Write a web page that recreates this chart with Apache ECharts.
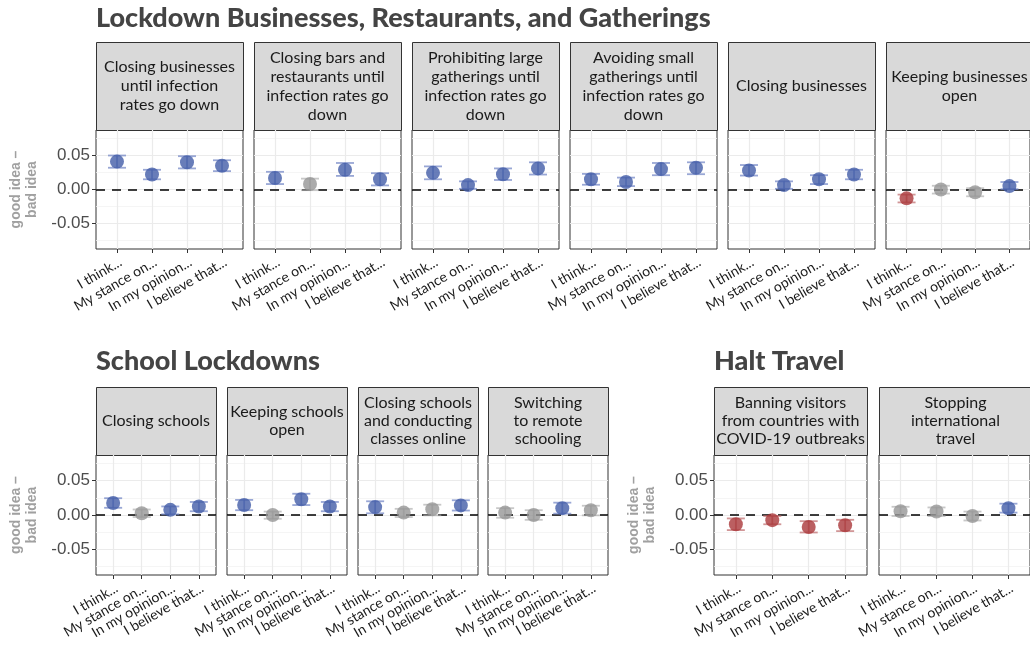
<!DOCTYPE html>
<html><head><meta charset="utf-8">
<script src="https://cdn.jsdelivr.net/npm/echarts@6/dist/echarts.min.js"></script>
<style>html,body{margin:0;padding:0;background:#fff}#c{width:1030px;height:654px}</style>
</head><body><div id="c"></div>
<script>
// ---------- data ----------
const prompts = ["I think...", "My stance on...", "In my opinion...", "I believe that..."];
const yTicks = [-0.05, 0, 0.05];
const yMinorTicks = [-0.075, -0.025, 0.025, 0.075];
const yTitle = "good idea \u2013\nbad idea";

const lockdownTitle = "Lockdown Businesses, Restaurants, and Gatherings";
const lockdownPanels = [
  "Closing businesses\nuntil infection\nrates go down",
  "Closing bars and\nrestaurants until\ninfection rates go\ndown",
  "Prohibiting large\ngatherings until\ninfection rates go\ndown",
  "Avoiding small\ngatherings until\ninfection rates go\ndown",
  "Closing businesses",
  "Keeping businesses\nopen"
];
const lockdownEst = [
  [0.041, 0.022, 0.040, 0.035],
  [0.017, 0.008, 0.029, 0.015],
  [0.0245, 0.0065, 0.0225, 0.031],
  [0.015, 0.011, 0.030, 0.032],
  [0.028, 0.0065, 0.015, 0.022],
  [-0.013, 0.000, -0.004, 0.005]
];
const lockdownLo = [
  [0.032, 0.015, 0.031, 0.027],
  [0.008, -0.001, 0.020, 0.006],
  [0.015, 0.001, 0.014, 0.022],
  [0.007, 0.005, 0.021, 0.0225],
  [0.0205, 0.001, 0.008, 0.015],
  [-0.019, -0.006, -0.010, 0.0005]
];
const lockdownHi = [
  [0.050, 0.029, 0.049, 0.043],
  [0.026, 0.016, 0.039, 0.024],
  [0.034, 0.012, 0.031, 0.040],
  [0.023, 0.0175, 0.039, 0.040],
  [0.036, 0.012, 0.021, 0.029],
  [-0.0075, 0.0055, 0.002, 0.011]
];

const schoolTitle = "School Lockdowns";
const schoolPanels = [
  "Closing schools",
  "Keeping schools\nopen",
  "Closing schools\nand conducting\nclasses online",
  "Switching\nto remote\nschooling"
];
const schoolEst = [
  [0.0175, 0.0025, 0.0075, 0.0125],
  [0.0145, 0.000, 0.023, 0.0125],
  [0.0115, 0.0035, 0.0085, 0.014],
  [0.0035, 0.000, 0.010, 0.007]
];
const schoolLo = [
  [0.0105, -0.003, 0.001, 0.0055],
  [0.007, -0.0055, 0.0145, 0.0055],
  [0.0025, -0.003, -0.0005, 0.0065],
  [-0.004, -0.007, 0.002, -0.0005]
];
const schoolHi = [
  [0.0245, 0.008, 0.0125, 0.019],
  [0.022, 0.005, 0.031, 0.019],
  [0.020, 0.009, 0.015, 0.0215],
  [0.010, 0.007, 0.018, 0.0135]
];

const travelTitle = "Halt Travel";
const travelPanels = [
  "Banning visitors\nfrom countries with\nCOVID-19 outbreaks",
  "Stopping\ninternational\ntravel"
];
const travelEst = [
  [-0.0135, -0.0075, -0.0175, -0.015],
  [0.0055, 0.005, -0.0015, 0.0098]
];
const travelLo = [
  [-0.022, -0.0135, -0.0255, -0.0235],
  [-0.0015, -0.0015, -0.008, 0.0035]
];
const travelHi = [
  [-0.005, -0.0015, -0.009, -0.007],
  [0.012, 0.011, 0.005, 0.0165]
];

// ---------- layout ----------
const groups = [
  {title: lockdownTitle, panels: lockdownPanels, est: lockdownEst, lo: lockdownLo, hi: lockdownHi,
   lefts: [96, 254, 412, 570, 728, 886], width: 147, top: 130, height: 119,
   stripTop: 42, stripH: 88, lineH: 19, titleY: 18, titleX: 96},
  {title: schoolTitle, panels: schoolPanels, est: schoolEst, lo: schoolLo, hi: schoolHi,
   lefts: [96, 227, 358, 488], width: 120, top: 455, height: 120,
   stripTop: 387, stripH: 68, lineH: 18, titleY: 361, titleX: 96},
  {title: travelTitle, panels: travelPanels, est: travelEst, lo: travelLo, hi: travelHi,
   lefts: [714, 879], width: 153, top: 455, height: 120,
   stripTop: 387, stripH: 68, lineH: 18, titleY: 361, titleX: 714}
];

const COL = {
  pos: {pt: 'rgba(66,92,168,0.8)', bar: 'rgba(110,130,195,0.7)'},
  neg: {pt: 'rgba(170,55,58,0.8)', bar: 'rgba(190,105,107,0.7)'},
  ns:  {pt: 'rgba(150,150,150,0.8)', bar: 'rgba(170,170,170,0.65)'}
};

const grids = [], xAxes = [], yAxes = [], series = [], graphics = [];
const YMIN = -0.0875, YMAX = 0.0875;

groups.forEach(g => {
  graphics.push({type: 'text', x: g.titleX, y: g.titleY,
    style: {text: g.title, font: '900 27px Lato', fill: '#444', textVerticalAlign: 'middle', textAlign: 'left'}});
  g.panels.forEach((pTitle, i) => {
    const gi = grids.length;
    const first = i === 0;
    const left = g.lefts[i];
    grids.push({left: left, top: g.top, width: g.width, height: g.height, show: true,
      borderColor: '#333', borderWidth: 1, backgroundColor: '#fff'});
    xAxes.push({gridIndex: gi, type: 'value', min: -0.6, max: 3.6,
      axisLine: {show: false, onZero: false},
      axisTick: {show: true, customValues: [0, 1, 2, 3], length: 4, lineStyle: {color: '#333', width: 1}},
      axisLabel: {customValues: [0, 1, 2, 3], formatter: v => prompts[Math.round(v)], rotate: 30,
        hideOverlap: false, showMinLabel: true, showMaxLabel: true,
        align: 'right', verticalAlign: 'top',
        fontFamily: 'Lato', fontSize: 14, color: '#1a1a1a', margin: 6},
      splitLine: {show: true, lineStyle: {color: '#ebebeb', width: 1.2}}
    });
    const yMain = yAxes.length;
    yAxes.push({gridIndex: gi, type: 'value', min: YMIN, max: YMAX, position: 'left',
      axisLine: {show: false, onZero: false},
      axisTick: {show: first, customValues: yTicks, length: 4, lineStyle: {color: '#333', width: 1}},
      axisLabel: {show: first, customValues: yTicks, formatter: v => v.toFixed(2),
        hideOverlap: false, showMinLabel: true, showMaxLabel: true,
        fontFamily: 'Liberation Sans', fontSize: 17, color: '#4d4d4d', margin: 6},
      splitLine: {show: true, lineStyle: {color: '#ebebeb', width: 1.2}},
      name: first ? yTitle : '', nameLocation: 'middle', nameRotate: 90, nameGap: 56,
      nameTextStyle: {fontFamily: 'Liberation Sans', fontWeight: 'bold', fontSize: 14, color: '#a0a0a0', lineHeight: 16}
    });
    yAxes.push({gridIndex: gi, type: 'value', min: YMIN, max: YMAX, position: 'left',
      axisLine: {show: false, onZero: false},
      axisTick: {show: false, customValues: yMinorTicks},
      axisLabel: {show: false, customValues: yMinorTicks},
      splitLine: {show: true, lineStyle: {color: '#f3f3f3', width: 0.8}}
    });
    const data = prompts.map((p, k) => [k, g.est[i][k], g.lo[i][k], g.hi[i][k]]);
    // zero reference line
    series.push({type: 'line', xAxisIndex: gi, yAxisIndex: yMain, data: [], silent: true,
      markLine: {silent: true, symbol: 'none', label: {show: false}, animation: false,
        lineStyle: {color: '#000', type: [9, 7], width: 1.6}, data: [{yAxis: 0}]}});
    series.push({type: 'custom', xAxisIndex: gi, yAxisIndex: yMain, data: data, z: 10, animation: false,
      renderItem: (params, api) => {
        const x = api.value(0), est = api.value(1), lo = api.value(2), hi = api.value(3);
        const c = lo > 0 ? COL.pos : (hi < 0 ? COL.neg : COL.ns);
        const pL = api.coord([x, lo]), pH = api.coord([x, hi]), p = api.coord([x, est]);
        const hw = 9;
        return {type: 'group', children: [
          {type: 'line', shape: {x1: pL[0], y1: pL[1], x2: pH[0], y2: pH[1]}, style: {stroke: c.bar, lineWidth: 1.8}},
          {type: 'line', shape: {x1: pL[0] - hw, y1: pL[1], x2: pL[0] + hw, y2: pL[1]}, style: {stroke: c.bar, lineWidth: 1.8}},
          {type: 'line', shape: {x1: pH[0] - hw, y1: pH[1], x2: pH[0] + hw, y2: pH[1]}, style: {stroke: c.bar, lineWidth: 1.8}},
          {type: 'circle', shape: {cx: p[0], cy: p[1], r: 7}, style: {fill: c.pt}}
        ]};
      }
    });
    // strip
    graphics.push({type: 'rect', shape: {x: left + 0.5, y: g.stripTop + 0.5, width: g.width, height: g.stripH},
      style: {fill: '#d9d9d9', stroke: '#333', lineWidth: 1}});
    graphics.push({type: 'text', x: left + g.width / 2, y: g.stripTop + g.stripH / 2,
      style: {text: pTitle, font: '16px Lato', fill: '#1a1a1a', textAlign: 'center', textVerticalAlign: 'middle', lineHeight: g.lineH}});
  });
});

const chart = echarts.init(document.getElementById('c'), null, {renderer: 'canvas'});
chart.setOption({
  animation: false,
  backgroundColor: '#fff',
  grid: grids, xAxis: xAxes, yAxis: yAxes, series: series,
  graphic: graphics
});
</script>
</body></html>
